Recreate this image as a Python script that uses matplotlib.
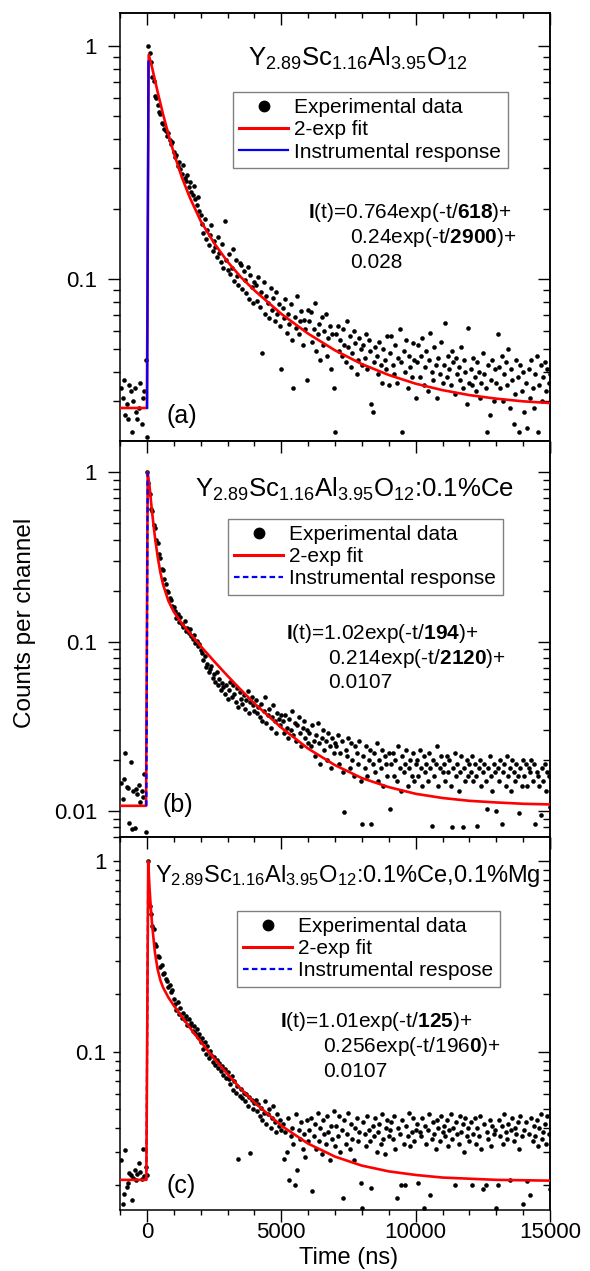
import numpy as np
import matplotlib
matplotlib.use('Agg')
import matplotlib.pyplot as plt
from matplotlib import ticker
from matplotlib.lines import Line2D

plt.rcParams['font.family'] = 'Liberation Sans'
plt.rcParams['mathtext.fontset'] = 'custom'
plt.rcParams['mathtext.rm'] = 'Liberation Sans'
plt.rcParams['mathtext.bf'] = 'Liberation Sans:bold'
plt.rcParams['mathtext.default'] = 'regular'

# channels: first channel at -950 ns, 50 ns per channel
t_start = -950
channel = 50

# (a) Y2.89Sc1.16Al3.95O12
counts_a = [
    .034, .031, .037, .026, .029, .025, .035, .033, .022, .030, .034, .027, .025, .028, .036, .024, .031, .033, .045, .021,
    1.0, .94, .86, .74, .71, .61, .60, .56, .52, .51, .47, .465, .44, .435, .41, .425, .395, .38, .39, .35,
    .335, .342, .305, .318, .296, .284, .310, .272, .263, .281, .248, .262, .238, .229, .251, .221, .209, .226, .197, .188,
    .172, .158, .181, .149, .163, .140, .155, .171, .132, .146, .138, .125, .152, .129, .118, .141, .112, .178, .121, .109,
    .128, .105, .112, .135, .098, .121, .103, .094, .117, .115, .091, .108, .099, .087, .113, .082, .104, .093, .079, .097,
    .094, .081, .102, .076, .088, .048, .097, .071, .085, .079, .068, .092, .074, .083, .066, .088, .071, .078, .063, .041,
    .075, .068, .082, .059, .071, .064, .078, .055, .034, .069, .062, .085, .058, .066, .073, .052, .067, .061, .037, .074,
    .066, .072, .054, .061, .079, .049, .058, .064, .045, .069, .052, .060, .071, .047, .056, .063, .041, .058, .034, .022,
    .058, .063, .049, .055, .047, .061, .052, .044, .066, .051, .057, .042, .048, .060, .053, .039, .045, .056, .050, .043,
    .052, .046, .058, .041, .055, .049, .029, .027, .044, .051, .047, .039, .054, .043, .036, .050, .045, .041, .057, .035,
    .048, .057, .043, .039, .052, .036, .046, .061, .044, .022, .049, .040, .055, .034, .047, .042, .038, .053, .045, .031,
    .044, .052, .038, .047, .056, .035, .042, .049, .033, .045, .059, .040, .037, .051, .043, .031, .046, .039, .054, .036,
    .043, .065, .038, .047, .041, .035, .049, .044, .032, .046, .039, .042, .037, .051, .034, .045, .040, .029, .062, .036,
    .041, .035, .046, .038, .033, .044, .040, .031, .036, .048, .039, .034, .022, .043, .026, .037, .045, .030, .041, .036,
    .058, .042, .034, .047, .030, .039, .044, .035, .050, .028, .041, .037, .024, .032, .045, .038, .022, .043, .033, .040,
    .027, .036, .023, .041, .031, .045, .034, .028, .039, .047, .022, .035, .043, .030, .038, .044, .033, .041, .036, .039,
]
fit_t_a = [-1000, 0, 70, 200, 400, 600, 800, 1000, 1300, 1600, 2000, 2500, 3000, 3500, 4000, 5000,
           6000, 7000, 8000, 9000, 10000, 11000, 12000, 13000, 14000, 15000]
fit_a = [0.028, 0.028, 0.92, 0.805, 0.637, 0.512, 0.419, 0.349, 0.274, 0.224, 0.178, 0.143, 0.119, 0.102,
         0.0896, 0.0710, 0.0584, 0.0495, 0.0432, 0.0388, 0.0356, 0.0334, 0.0318, 0.0307, 0.0299, 0.0294]
irf_t_a = [10, 55]
irf_a = [0.028, 0.86]

# (b) :0.1%Ce
counts_b = [
    .0146, .0117, .0155, .0220, .0138, .0136, .0085, .0195, .0078, .0130, .0079, .0135, .0126, .0142, .0112, .0131, .0120, .0165, .0075, 1.0,
    .86, .74, .61, .59, .49, .47, .40, .38, .33, .31, .27, .265, .235, .22, .20, .195, .18, .175, .162, .16,
    .152, .138, .145, .131, .140, .127, .122, .133, .116, .121, .112, .118, .108, .103, .110, .098, .101, .094, .097, .089,
    .085, .078, .082, .071, .074, .066, .069, .072, .061, .064, .058, .066, .055, .060, .052, .057, .054, .049, .055, .046,
    .052, .058, .047, .055, .049, .044, .053, .041, .050, .046, .043, .048, .040, .045, .051, .038, .044, .047, .042, .039,
    .045, .038, .041, .036, .043, .034, .039, .047, .033, .037, .040, .031, .036, .042, .034, .029, .038, .035, .032, .037,
    .034, .029, .037, .031, .027, .035, .030, .039, .028, .033, .026, .032, .036, .029, .024, .031, .034, .027, .030, .025,
    .029, .024, .032, .026, .021, .028, .033, .025, .019, .027, .030, .023, .026, .020, .029, .024, .018, .027, .022, .025,
    .024, .028, .019, .022, .026, .017, .0098, .023, .021, .027, .018, .025, .020, .016, .024, .022, .019, .026, .015, .0084,
    .021, .018, .024, .016, .020, .023, .0084, .019, .022, .017, .025, .015, .020, .018, .023, .014, .021, .019, .016, .022,
    .0103, .019, .022, .016, .020, .015, .024, .018, .013, .021, .017, .019, .023, .014, .018, .020, .016, .022, .015, .019,
    .020, .016, .023, .018, .014, .021, .017, .019, .015, .022, .018, .0081, .020, .016, .019, .024, .014, .018, .021, .017,
    .019, .015, .021, .017, .020, .014, .0080, .018, .022, .016, .019, .013, .017, .021, .0080, .018, .015, .020, .016, .019,
    .017, .021, .015, .019, .016, .0081, .018, .020, .014, .017, .019, .015, .0103, .018, .021, .016, .013, .019, .017, .0100,
    .018, .015, .020, .0083, .017, .019, .014, .021, .016, .018, .013, .020, .017, .015, .019, .016, .0097, .018, .014, .020,
    .016, .019, .014, .018, .017, .020, .015, .019, .0083, .017, .016, .014, .0095, .018, .015, .019, .013, .017, .016, .0105,
]
fit_t_b = [-1000, -30, 30, 100, 150, 200, 300, 400, 500, 600, 800, 1000, 1300, 1600, 2000, 2500, 3000,
           3500, 4000, 5000, 6000, 7000, 8000, 9000, 10000, 11000, 12000, 13000, 14000, 15000]
fit_b = [0.0107, 0.0107, 1.0, 0.824, 0.681, 0.569, 0.414, 0.318, 0.257, 0.218, 0.174, 0.150, 0.128, 0.112,
         0.094, 0.0765, 0.0627, 0.0518, 0.0431, 0.0310, 0.0233, 0.0186, 0.0156, 0.0138, 0.0126, 0.0119,
         0.01145, 0.0112, 0.0110, 0.0109]
irf_t_b = [-20, 30]
irf_b = [0.0107, 1.0]

# (c) :0.1%Ce,0.1%Mg
counts_c = [
    .027, .0159, .0179, .0306, .0195, .0205, .0232, .0225, .0166, .0218, .0241, .0212, .0228, .0261, .0235, .0215, .031, .0222, .0248, .0225,
    1.0, .58, .53, .46, .44, .37, .36, .32, .315, .28, .285, .255, .26, .24, .235, .22, .225, .205, .21, .19,
    .178, .165, .182, .158, .169, .151, .160, .147, .155, .139, .149, .136, .142, .128, .137, .125, .131, .119, .124, .112,
    .118, .104, .112, .098, .107, .093, .101, .096, .088, .094, .085, .091, .082, .087, .079, .084, .076, .081, .073, .078,
    .072, .068, .075, .063, .070, .061, .066, .0273, .059, .064, .057, .061, .055, .060, .052, .058, .0296, .056, .050, .054,
    .056, .049, .053, .046, .051, .044, .048, .055, .042, .047, .050, .040, .045, .052, .043, .038, .047, .041, .044, .039,
    .042, .0273, .038, .0297, .045, .0212, .036, .040, .033, .0201, .047, .024, .039, .035, .043, .031, .037, .028, .044, .034,
    .039, .045, .0187, .036, .042, .031, .048, .034, .040, .029, .044, .037, .033, .046, .038, .027, .041, .035, .049, .032,
    .041, .036, .046, .030, .039, .0172, .044, .033, .037, .048, .031, .042, .035, .027, .040, .045, .034, .038, .0204, .0152,
    .043, .037, .032, .046, .039, .034, .0194, .041, .036, .045, .030, .038, .042, .033, .047, .035, .029, .040, .044, .036,
    .039, .043, .035, .046, .031, .0172, .040, .037, .0201, .044, .033, .0201, .041, .036, .048, .032, .038, .045, .034, .039,
    .042, .0205, .038, .036, .045, .0152, .041, .033, .039, .047, .0178, .035, .043, .037, .031, .044, .040, .034, .046, .038,
    .041, .036, .044, .032, .039, .047, .035, .040, .0201, .043, .037, .033, .046, .038, .042, .030, .045, .036, .040, .034,
    .043, .0201, .037, .045, .033, .040, .036, .046, .031, .0190, .042, .0201, .038, .035, .044, .032, .041, .037, .039, .0152,
    .0201, .044, .036, .041, .033, .047, .038, .035, .042, .0212, .039, .045, .034, .040, .037, .043, .031, .046, .036, .0160,
    .039, .043, .0210, .037, .0178, .045, .034, .041, .036, .044, .032, .040, .047, .035, .038, .042, .033, .046, .037, .0190,
]
fit_t_c = [-1000, -20, 50, 100, 150, 200, 300, 400, 500, 600, 800, 1000, 1300, 1600, 2000, 2500, 3000,
           3500, 4000, 5000, 6000, 7000, 8000, 9000, 10000, 11000, 12000, 13000, 14000, 15000]
fit_c = [0.0213, 0.0213, 1.0, 0.718, 0.562, 0.456, 0.332, 0.271, 0.238, 0.218, 0.193, 0.175, 0.153, 0.134,
         0.113, 0.0925, 0.0764, 0.0639, 0.0543, 0.0410, 0.0330, 0.0282, 0.0253, 0.0236, 0.0226, 0.0219,
         0.0216, 0.0213, 0.0212, 0.0211]
irf_t_c = [-20, 50]
irf_c = [0.0213, 1.0]

W, H = 590, 1271
fig = plt.figure(figsize=(W / 100, H / 100), dpi=100)


def fx(x):
    return x / W


def fy(y):
    return 1 - y / H


def setup_axes(top, bot, ylim, ymaj, ymin, ypad, show_x):
    ax = fig.add_axes([fx(120), fy(bot), fx(550) - fx(120), (bot - top) / H])
    ax.set_yscale('log')
    ax.set_xlim(-1000, 15000)
    ax.set_ylim(*ylim)
    for sp in ax.spines.values():
        sp.set_linewidth(1.1)
    ax.xaxis.set_major_locator(ticker.MultipleLocator(5000))
    ax.xaxis.set_minor_locator(ticker.MultipleLocator(1000))
    ax.yaxis.set_major_locator(ticker.LogLocator(base=10))
    ax.yaxis.set_minor_locator(ticker.LogLocator(base=10, subs=np.arange(2, 10)))
    ax.yaxis.set_major_formatter(ticker.FormatStrFormatter('%g'))
    ax.yaxis.set_minor_formatter(ticker.NullFormatter())
    ax.tick_params(which='both', direction='out', width=1.0, labelsize=16, top=False, right=False)
    ax.tick_params(axis='x', which='major', length=8.4, pad=0.5, labelbottom=show_x)
    ax.tick_params(axis='x', which='minor', length=3.6)
    ax.tick_params(axis='y', which='major', length=ymaj, pad=ypad)
    ax.tick_params(axis='y', which='minor', length=ymin)

    top_ax = ax.secondary_xaxis('top')
    top_ax.xaxis.set_major_locator(ticker.MultipleLocator(5000))
    top_ax.xaxis.set_minor_locator(ticker.MultipleLocator(1000))
    top_ax.tick_params(which='both', direction='in', width=1.0, labeltop=False)
    top_ax.tick_params(which='major', length=8.4)
    top_ax.tick_params(which='minor', length=3.6)
    top_ax.spines['top'].set_linewidth(1.1)

    right_ax = ax.secondary_yaxis('right')
    right_ax.yaxis.set_major_locator(ticker.LogLocator(base=10))
    right_ax.yaxis.set_minor_locator(ticker.LogLocator(base=10, subs=np.arange(2, 10)))
    right_ax.yaxis.set_minor_formatter(ticker.NullFormatter())
    right_ax.tick_params(which='both', direction='in', width=1.0, labelright=False)
    right_ax.tick_params(which='major', length=8.4)
    right_ax.tick_params(which='minor', length=4.8)
    right_ax.spines['right'].set_linewidth(1.1)
    return ax


def x_of(counts):
    return t_start + channel * np.arange(len(counts))


ax_a = setup_axes(13, 441, (0.0202, 1.39), 9.0, 4.8, 7.5, False)
ax_b = setup_axes(441, 837, (0.0070, 1.53), 9.0, 4.8, 7.5, False)
ax_c = setup_axes(837, 1210, (0.0148, 1.34), 4.8, 3.6, 5.0, True)

dash = (0, (2.5, 1.5))

ax_a.plot(x_of(counts_a), counts_a, 'o', ms=3.3, color='k', mec='none', zorder=2)
ax_a.plot(fit_t_a, fit_a, color='#ff0000', lw=1.9, zorder=3)
ax_a.plot(irf_t_a, irf_a, color='#0000ff', lw=1.6, zorder=4)

ax_b.plot(x_of(counts_b), counts_b, 'o', ms=3.3, color='k', mec='none', zorder=2)
ax_b.plot(fit_t_b, fit_b, color='#ff0000', lw=1.9, zorder=3)
ax_b.plot(irf_t_b, irf_b, color='#0000ff', lw=1.6, ls=dash, zorder=4)

ax_c.plot(x_of(counts_c), counts_c, 'o', ms=3.3, color='k', mec='none', zorder=2)
ax_c.plot(irf_t_c, irf_c, color='#0000ff', lw=1.6, ls=dash, zorder=3)
ax_c.plot(fit_t_c, fit_c, color='#ff0000', lw=1.9, zorder=4)


def add_legend(ax, x0, y0, irf_label, irf_ls):
    handles = [
        Line2D([], [], marker='o', ls='none', color='k', ms=7.5),
        Line2D([], [], color='#ff0000', lw=2.2),
        Line2D([], [], color='#0000ff', lw=1.6, ls=irf_ls),
    ]
    labels = ['Experimental data', '2-exp fit', irf_label]
    leg = ax.legend(handles, labels, loc='upper left', bbox_to_anchor=(fx(x0), fy(y0)),
                    bbox_transform=fig.transFigure, borderaxespad=0, fontsize=15,
                    fancybox=False, framealpha=1, edgecolor='#808080', borderpad=0.3,
                    labelspacing=0.15, handlelength=2.35, handletextpad=0.3)
    leg.get_frame().set_linewidth(1.0)


add_legend(ax_a, 233, 92, 'Instrumental response', '-')
add_legend(ax_b, 228, 519, 'Instrumental response', dash)
add_legend(ax_c, 237, 911, 'Instrumental respose', dash)

formula = r'Y$_{2.89}$Sc$_{1.16}$Al$_{3.95}$O$_{12}$'
fig.text(fx(248), fy(65.7), formula, fontsize=18.5, ha='left', va='baseline')
fig.text(fx(195), fy(496.7), formula + ':0.1%Ce', fontsize=18.5, ha='left', va='baseline')
fig.text(fx(155), fy(881.7), formula + ':0.1%Ce,0.1%Mg', fontsize=17, ha='left', va='baseline')

eq_size = 15
fig.text(fx(308), fy(217.7), r'$\mathbf{I}$(t)=0.764exp(-t/$\mathbf{618}$)+', fontsize=eq_size, va='baseline')
fig.text(fx(350), fy(243.3), r'0.24exp(-t/$\mathbf{2900}$)+', fontsize=eq_size, va='baseline')
fig.text(fx(350), fy(268.3), '0.028', fontsize=eq_size, va='baseline')

fig.text(fx(286), fy(639.3), r'$\mathbf{I}$(t)=1.02exp(-t/$\mathbf{194}$)+', fontsize=eq_size, va='baseline')
fig.text(fx(328), fy(664), r'0.214exp(-t/$\mathbf{2120}$)+', fontsize=eq_size, va='baseline')
fig.text(fx(328), fy(688.3), '0.0107', fontsize=eq_size, va='baseline')

fig.text(fx(280), fy(1027.3), r'$\mathbf{I}$(t)=1.01exp(-t/$\mathbf{125}$)+', fontsize=eq_size, va='baseline')
fig.text(fx(323), fy(1052.3), r'0.256exp(-t/196$\mathbf{0}$)+', fontsize=eq_size, va='baseline')
fig.text(fx(323), fy(1077), '0.0107', fontsize=eq_size, va='baseline')

fig.text(fx(166), fy(423.3), '(a)', fontsize=18, va='baseline')
fig.text(fx(163), fy(811.7), '(b)', fontsize=18, va='baseline')
fig.text(fx(166), fy(1192.7), '(c)', fontsize=18, va='baseline')

fig.text(fx(25), fy(623), 'Counts per channel', fontsize=17.5, rotation=90, ha='center', va='center')
fig.text(fx(349), fy(1264), 'Time (ns)', fontsize=17, ha='center', va='baseline')

fig.savefig('out.png', dpi=100)
